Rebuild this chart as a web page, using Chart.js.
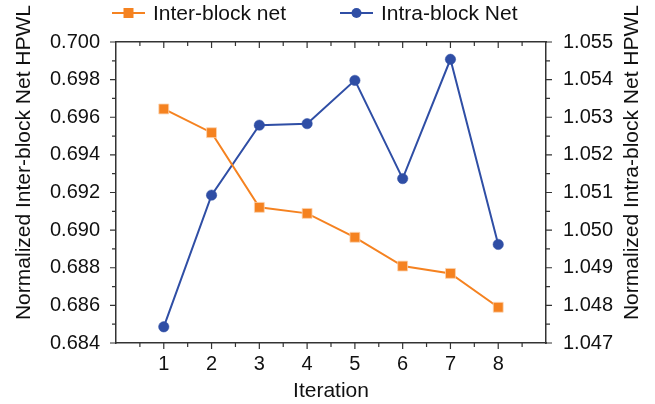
<!DOCTYPE html>
<html>
<head>
    <meta charset="utf-8">
    <title>HPWL per iteration</title>
    <style>
        body { margin: 0; background: #fff; }
    </style>
</head>
<body>
    <canvas id="c" width="655" height="404"></canvas>
    <script src="https://cdn.jsdelivr.net/npm/chart.js"></script>
    <script>
        // data
        var iterations = [1, 2, 3, 4, 5, 6, 7, 8];
        var interBlock = [0.69644, 0.69518, 0.69121, 0.69089, 0.68962, 0.68809, 0.68770, 0.68590];
        var intraBlock = [1.04743, 1.05093, 1.05279, 1.05283, 1.05398, 1.05137, 1.05454, 1.04962];
        var leftTicks = [0.684, 0.686, 0.688, 0.690, 0.692, 0.694, 0.696, 0.698, 0.700];
        var rightTicks = [1.047, 1.048, 1.049, 1.050, 1.051, 1.052, 1.053, 1.054, 1.055];

        var orange = "#F58220";
        var blue = "#2F4EA5";
        var axisColor = "#333333";
        var fontFamily = "'Liberation Sans', Arial, sans-serif";
        var tickFont = 20;
        var titleFont = 21;

        Chart.defaults.font.family = fontFamily;
        Chart.defaults.font.size = tickFont;
        Chart.defaults.color = "#111";

        function pairs(ys) {
            return iterations.map(function (x, i) { return { x: x, y: ys[i] }; });
        }

        // draws major/minor tick marks with the scales' own pixel mapping
        var tickMarks = {
            id: "tickMarks",
            afterDraw: function (chart) {
                var ctx = chart.ctx;
                var a = chart.chartArea;
                var s = chart.scales;
                ctx.save();
                ctx.strokeStyle = axisColor;
                ctx.lineWidth = 1.2;
                ctx.beginPath();
                for (var v = 0.5; v < 9; v += 0.5) {
                    var px = s.x.getPixelForValue(v);
                    var len = (v % 1 === 0) ? 6 : 4;
                    ctx.moveTo(px, a.bottom); ctx.lineTo(px, a.bottom + len);
                    ctx.moveTo(px, a.top); ctx.lineTo(px, a.top + len);
                }
                for (var i = 0; i <= 16; i++) {
                    var py = s.y.getPixelForValue(0.684 + i * 0.001);
                    var l = (i % 2 === 0) ? 6 : 4;
                    ctx.moveTo(a.left, py); ctx.lineTo(a.left - l, py);
                }
                for (var j = 0; j <= 16; j++) {
                    var py2 = s.y1.getPixelForValue(1.047 + j * 0.0005);
                    var l2 = (j % 2 === 0) ? 6 : 4;
                    ctx.moveTo(a.right, py2); ctx.lineTo(a.right + l2, py2);
                }
                ctx.stroke();
                ctx.restore();
            }
        };

        // both y titles read bottom-to-top, a bit above the plot's middle
        var yTitles = {
            id: "yTitles",
            afterDraw: function (chart) {
                var ctx = chart.ctx;
                var a = chart.chartArea;
                var cy = a.top + (a.bottom - a.top) / 2 - 30;
                var titles = [
                    { x: 30, text: "Normalized Inter-block Net HPWL" },
                    { x: a.right + 92, text: "Normalized Intra-block Net HPWL" }
                ];
                ctx.save();
                ctx.fillStyle = "#111";
                ctx.font = titleFont + "px " + fontFamily;
                ctx.textAlign = "center";
                ctx.textBaseline = "alphabetic";
                titles.forEach(function (t) {
                    ctx.save();
                    ctx.translate(t.x, cy);
                    ctx.rotate(-Math.PI / 2);
                    ctx.fillText(t.text, 0, 0);
                    ctx.restore();
                });
                ctx.restore();
            }
        };

        // legend: line with marker in the middle, then label
        var lineLegend = {
            id: "lineLegend",
            afterDraw: function (chart) {
                var ctx = chart.ctx;
                var a = chart.chartArea;
                var items = [
                    { x: a.left - 4, text: "Inter-block net", color: orange, shape: "rect" },
                    { x: a.left + 224, text: "Intra-block Net", color: blue, shape: "circle" }
                ];
                var y = 13;
                ctx.save();
                items.forEach(function (it) {
                    ctx.strokeStyle = it.color;
                    ctx.lineWidth = 2;
                    ctx.beginPath();
                    ctx.moveTo(it.x, y); ctx.lineTo(it.x + 33, y);
                    ctx.stroke();
                    ctx.fillStyle = it.color;
                    ctx.beginPath();
                    if (it.shape === "rect") {
                        ctx.rect(it.x + 11.5, y - 5, 10, 10);
                    } else {
                        ctx.arc(it.x + 16.5, y, 5, 0, Math.PI * 2);
                    }
                    ctx.fill();
                    ctx.fillStyle = "#111";
                    ctx.font = titleFont + "px " + fontFamily;
                    ctx.textBaseline = "middle";
                    ctx.fillText(it.text, it.x + 41, y + 1);
                });
                ctx.restore();
            }
        };

        new Chart(document.getElementById("c"), {
            type: "line",
            data: {
                datasets: [{
                    label: "Inter-block net",
                    data: pairs(interBlock),
                    yAxisID: "y",
                    borderColor: orange,
                    backgroundColor: orange,
                    borderWidth: 2,
                    pointStyle: "rect",
                    pointRadius: 7,
                    pointBorderColor: "#FBD3B0",
                    pointBorderWidth: 0.8,
                    tension: 0
                }, {
                    label: "Intra-block Net",
                    data: pairs(intraBlock),
                    yAxisID: "y1",
                    borderColor: blue,
                    backgroundColor: blue,
                    borderWidth: 2,
                    pointStyle: "circle",
                    pointRadius: 5.2,
                    pointBorderColor: blue,
                    pointBorderWidth: 0.5,
                    tension: 0
                }]
            },
            options: {
                responsive: false,
                devicePixelRatio: 1,
                animation: false,
                layout: { padding: 0 },
                scales: {
                    x: {
                        type: "linear",
                        position: "bottom",
                        min: 0,
                        max: 9,
                        afterBuildTicks: function (scale) {
                            scale.ticks = iterations.map(function (v) { return { value: v }; });
                        },
                        afterFit: function (scale) { scale.height = 61; },
                        ticks: { padding: 9, callback: function (v) { return String(v); } },
                        grid: { display: false, drawTicks: false },
                        border: { display: true, color: axisColor, width: 1.5 },
                        title: { display: true, text: "Iteration", font: { size: titleFont }, padding: { top: 0, bottom: 0 } }
                    },
                    xTop: {
                        type: "linear",
                        position: "top",
                        min: 0,
                        max: 9,
                        afterFit: function (scale) { scale.height = 42; },
                        ticks: { display: false },
                        grid: { display: false, drawTicks: false },
                        border: { display: true, color: axisColor, width: 1.5 }
                    },
                    y: {
                        type: "linear",
                        position: "left",
                        min: 0.684,
                        max: 0.700,
                        afterBuildTicks: function (scale) {
                            scale.ticks = leftTicks.map(function (v) { return { value: v }; });
                        },
                        afterFit: function (scale) { scale.width = 116; },
                        ticks: { padding: 16, callback: function (v) { return v.toFixed(3); } },
                        grid: { display: false, drawTicks: false },
                        border: { display: true, color: axisColor, width: 1.5 }
                    },
                    y1: {
                        type: "linear",
                        position: "right",
                        min: 1.047,
                        max: 1.055,
                        afterBuildTicks: function (scale) {
                            scale.ticks = rightTicks.map(function (v) { return { value: v }; });
                        },
                        afterFit: function (scale) { scale.width = 109; },
                        ticks: { padding: 17, callback: function (v) { return v.toFixed(3); } },
                        grid: { display: false, drawTicks: false },
                        border: { display: true, color: axisColor, width: 1.5 }
                    }
                },
                plugins: {
                    legend: { display: false },
                    tooltip: { enabled: false }
                }
            },
            plugins: [tickMarks, yTitles, lineLegend]
        });
    </script>
</body>
</html>
